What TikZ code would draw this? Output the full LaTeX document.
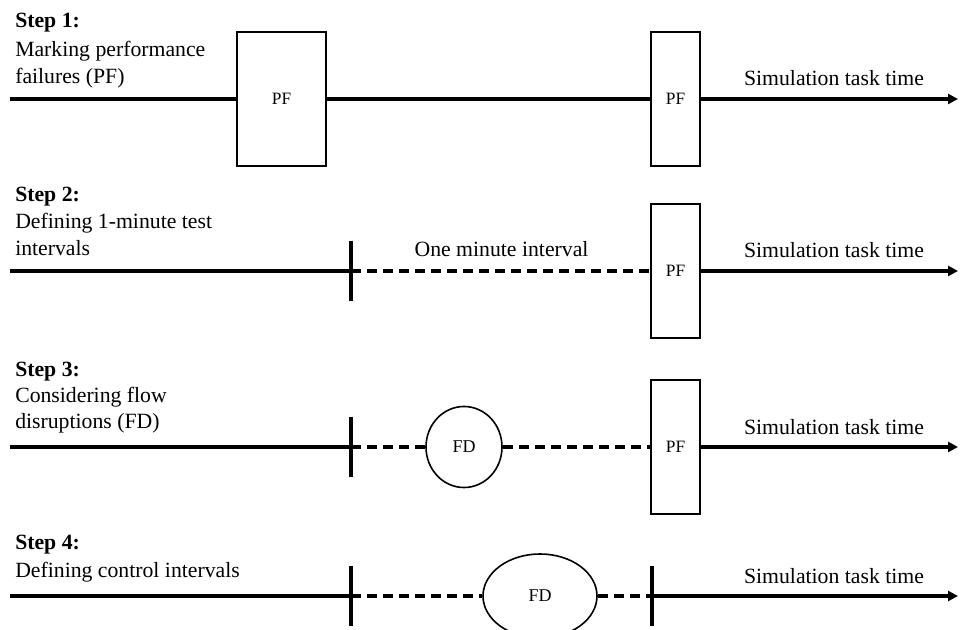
\documentclass[tikz,border=0pt]{standalone}
\usepackage{fontspec}
\setmainfont{Liberation Serif}
\usetikzlibrary{arrows.meta,shapes.geometric}
\tikzset{
  axis/.style={line width=2.3pt},
  dashaxis/.style={line width=2.3pt, dash pattern=on 7.5pt off 4.5pt},
  arrowaxis/.style={line width=2.3pt, -{Triangle[length=7.5pt,width=7.5pt]}},
  tickst/.style={line width=2.3pt},
  pfbox/.style={draw, line width=1.2pt, rectangle, inner sep=0pt, minimum height=100.5pt, font=\fontsize{13}{15}\selectfont},
  fdell/.style={draw, line width=1.2pt, ellipse, inner sep=0pt, font=\fontsize{13.5}{15}\selectfont},
  steplbl/.style={anchor=base west, inner sep=0pt, font=\fontsize{16.3}{20}\selectfont\bfseries},
  desclbl/.style={anchor=base west, inner sep=0pt, font=\fontsize{16.3}{20}\selectfont},
  timelbl/.style={anchor=base, inner sep=0pt, font=\fontsize{16.3}{20}\selectfont}
}
\begin{document}
\begin{tikzpicture}[x=0.75pt,y=-0.75pt]
\useasboundingbox (0,0) rectangle (962,630);

% ---------- Step 1 ----------
\node[steplbl] (s1) at (15,28) {Step 1:};
\node[desclbl] (s1a) at (15,57) {Marking performance};
\node[desclbl] (s1b) at (15,84) {failures (PF)};
\coordinate (r1s) at (10,99);
\coordinate (r1e) at (958,99);
\node[pfbox, minimum width=66.75pt] (b1a) at (281.5,99) {PF};
\node[pfbox, minimum width=37pt] (b1b) at (675.5,99) {PF};
\draw[axis] (r1s) -- (b1a.west);
\draw[axis] (b1a.east) -- (b1b.west);
\draw[arrowaxis] (b1b.east) -- (r1e);
\node[timelbl] (tl1) at (834,86) {Simulation task time};

% ---------- Step 2 ----------
\node[steplbl] (s2) at (15,202) {Step 2:};
\node[desclbl] (s2a) at (15,229) {Defining 1-minute test};
\node[desclbl] (s2b) at (15,256) {intervals};
\coordinate (r2s) at (10,271);
\coordinate (t2) at (351,271);
\coordinate (r2e) at (958,271);
\node[pfbox, minimum width=37pt] (b2) at (675.5,271) {PF};
\draw[axis] (r2s) -- (t2);
\draw[tickst] (t2) ++(0,-30) -- ++(0,60);
\draw[dashaxis] (t2) -- (b2.west);
\draw[arrowaxis] (b2.east) -- (r2e);
\node[timelbl] (ol2) at (501.5,257) {One minute interval};
\node[timelbl] (tl2) at (834,258) {Simulation task time};

% ---------- Step 3 ----------
\node[steplbl] (s3) at (15,376) {Step 3:};
\node[desclbl] (s3a) at (15,402) {Considering flow};
\node[desclbl] (s3b) at (15,428) {disruptions (FD)};
\coordinate (r3s) at (10,447);
\coordinate (t3) at (351,447);
\coordinate (r3e) at (958,447);
\node[fdell, minimum width=57pt, minimum height=60.75pt] (c3) at (464,447) {FD};
\node[pfbox, minimum width=37pt] (b3) at (675.5,447) {PF};
\draw[axis] (r3s) -- (t3);
\draw[tickst] (t3) ++(0,-30) -- ++(0,60);
\draw[dashaxis] (t3) -- (c3.west);
\draw[dashaxis] (c3.east) -- (b3.west);
\draw[arrowaxis] (b3.east) -- (r3e);
\node[timelbl] (tl3) at (834,434) {Simulation task time};

% ---------- Step 4 ----------
\node[steplbl] (s4) at (15,549) {Step 4:};
\node[desclbl] (s4a) at (15,577) {Defining control intervals};
\coordinate (r4s) at (10,596);
\coordinate (t4a) at (351,596);
\coordinate (t4b) at (652,596);
\coordinate (r4e) at (958,596);
\node[fdell, minimum width=85.5pt, minimum height=63pt] (e4) at (540,596) {FD};
\draw[axis] (r4s) -- (t4a);
\draw[tickst] (t4a) ++(0,-30) -- ++(0,60);
\draw[dashaxis] (t4a) -- (e4.west);
\draw[dashaxis] (e4.east) -- (t4b);
\draw[tickst] (t4b) ++(0,-30) -- ++(0,60);
\draw[arrowaxis] (t4b) -- (r4e);
\node[timelbl] (tl4) at (834,583) {Simulation task time};
\end{tikzpicture}
\end{document}
